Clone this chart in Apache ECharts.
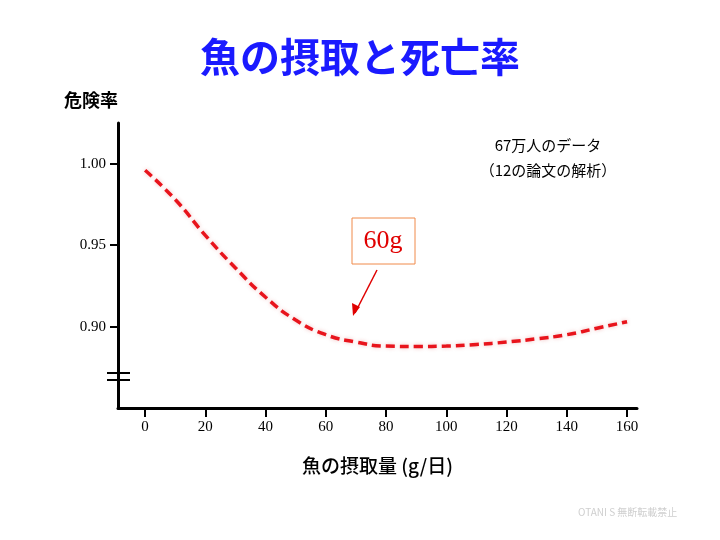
<!DOCTYPE html>
<html style="height: 100%;">
  <head>
    <meta charset="utf-8" />
  </head>
  <body style="height: 100%; margin: 0; background: #fff;">
    <div id="container" style="width: 720px; height: 540px;"></div>
    <script src="https://cdn.jsdelivr.net/npm/echarts@6/dist/echarts.min.js"></script>
    <script type="text/javascript">
      var fishIntake = [0, 10, 20, 30, 40, 50, 60, 70, 80, 90, 100, 110, 120, 130, 140, 150, 160];
      var hazardRatio = [0.996, 0.978, 0.956, 0.936, 0.918, 0.904, 0.895, 0.8905, 0.888, 0.8878,
                         0.888, 0.889, 0.8905, 0.8925, 0.895, 0.899, 0.903];
      var xTicks = [0, 20, 40, 60, 80, 100, 120, 140, 160];
      var yTicks = [0.9, 0.95, 1.0];

      var jp = "'Noto Sans CJK JP', sans-serif";
      var serif = "'Liberation Serif', serif";
      var myChart = echarts.init(document.getElementById("container"));

      var option = {
        animation: false,
        title: {
          text: "魚の摂取と死亡率",
          left: "center",
          top: 32,
          textStyle: { color: "#1a1aff", fontSize: 40, fontWeight: "bold", fontFamily: jp },
        },
        grid: { left: 118, right: 83, top: 123, bottom: 132 },
        xAxis: {
          type: "value",
          min: -9,
          max: 163.3,
          name: "魚の摂取量 (g/日)",
          nameLocation: "middle",
          nameGap: 48,
          nameTextStyle: { fontSize: 19, fontWeight: 500, color: "#000", fontFamily: jp },
          splitLine: { show: false },
          axisLine: { onZero: false, lineStyle: { color: "#000", width: 3 } },
          axisTick: { customValues: xTicks, length: 9, lineStyle: { color: "#000", width: 2 } },
          axisLabel: { customValues: xTicks, color: "#000", fontSize: 15, fontFamily: serif, margin: 12 },
        },
        yAxis: {
          type: "value",
          min: 0.85,
          max: 1.025,
          name: "危険率",
          nameGap: 14,
          nameTextStyle: { fontSize: 18, fontWeight: "bold", color: "#000", fontFamily: jp, align: "right", padding: [0, 0, 0, 0] },
          splitLine: { show: false },
          axisLine: { show: true, onZero: false, lineStyle: { color: "#000", width: 3 } },
          axisTick: { show: true, customValues: yTicks, length: 8, lineStyle: { color: "#000", width: 2 } },
          axisLabel: {
            customValues: yTicks, color: "#000", fontSize: 15, fontFamily: serif, margin: 12,
            formatter: function (v) { return v.toFixed(2); },
          },
        },
        series: [
          {
            type: "line",
            smooth: true,
            symbol: "none",
            data: fishIntake.map(function (x, i) { return [x, hazardRatio[i]]; }),
            lineStyle: { color: "#e8141c", width: 3.5, type: [9, 5],
              shadowColor: "rgba(200,0,0,0.25)", shadowBlur: 4 },
          },
        ],
        graphic: [
          // axis break marks
          { type: "line", shape: { x1: 107, y1: 373, x2: 130, y2: 373 }, style: { stroke: "#000", lineWidth: 2 } },
          { type: "line", shape: { x1: 107, y1: 380, x2: 130, y2: 380 }, style: { stroke: "#000", lineWidth: 2 } },
          // annotation
          { type: "rect", shape: { x: 352, y: 218, width: 63, height: 46 }, style: { fill: "#fff", stroke: "#f08a4b", lineWidth: 1 } },
          { type: "text", x: 383, y: 241, style: { text: "60g", fill: "#e00000", font: "26px 'Liberation Serif', serif", align: "center", verticalAlign: "middle" } },
          { type: "line", shape: { x1: 377, y1: 270, x2: 355, y2: 313 }, style: { stroke: "#e00000", lineWidth: 1.5 } },
          { type: "polygon", shape: { points: [[353, 316], [352, 303], [360, 307]] }, style: { fill: "#e00000" } },
          // note
          { type: "text", x: 548, y: 145, style: { text: "67万人のデータ", fill: "#000", font: "15px 'Noto Sans CJK JP', sans-serif", align: "center", verticalAlign: "middle" } },
          { type: "text", x: 548, y: 170, style: { text: "（12の論文の解析）", fill: "#000", font: "15px 'Noto Sans CJK JP', sans-serif", align: "center", verticalAlign: "middle" } },
          // watermark
          { type: "text", x: 578, y: 512, style: { text: "OTANI S 無断転載禁止", fill: "#cfcfcf", font: "10px 'Noto Sans CJK JP', sans-serif", verticalAlign: "middle" } },
        ],
      };
      myChart.setOption(option);
    </script>
  </body>
</html>
